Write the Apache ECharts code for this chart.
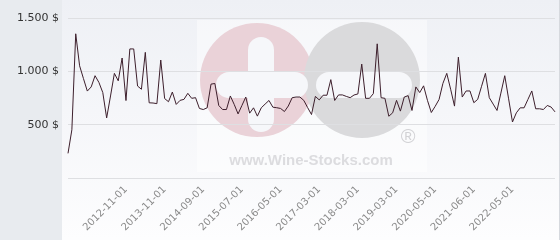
<!DOCTYPE html>
<html><head><meta charset="utf-8">
<script src="https://cdn.jsdelivr.net/npm/echarts@6/dist/echarts.min.js"></script>
<style>html,body{margin:0;padding:0;background:#fff;}#c{width:560px;height:240px;}</style>
</head><body><div id="c"></div>
<script>
const categories = [
'2011-08-01','2011-09-01','2011-10-01','2011-11-01','2011-12-01','2012-01-01','2012-02-01','2012-03-01','2012-04-01','2012-05-01',
'2012-06-01','2012-07-01','2012-08-01','2012-09-01','2012-10-01','2012-11-01','2012-12-01','2013-01-01','2013-02-01','2013-04-01',
'2013-05-01','2013-06-01','2013-08-01','2013-09-01','2013-10-01','2013-11-01','2013-12-01','2014-01-01','2014-02-01','2014-03-01',
'2014-04-01','2014-05-01','2014-06-01','2014-07-01','2014-08-01','2014-09-01','2014-10-01','2014-11-01','2014-12-01','2015-01-01',
'2015-02-01','2015-03-01','2015-04-01','2015-05-01','2015-06-01','2015-07-01','2015-08-01','2015-09-01','2015-10-01','2015-11-01',
'2015-12-01','2016-01-01','2016-02-01','2016-03-01','2016-04-01','2016-05-01','2016-06-01','2016-07-01','2016-08-01','2016-09-01',
'2016-10-01','2016-11-01','2016-12-01','2017-01-01','2017-02-01','2017-03-01','2017-04-01','2017-05-01','2017-07-01','2017-08-01',
'2017-09-01','2017-10-01','2017-12-01','2018-01-01','2018-02-01','2018-03-01','2018-04-01','2018-05-01','2018-06-01','2018-08-01',
'2018-09-01','2018-10-01','2018-11-01','2019-01-01','2019-02-01','2019-03-01','2019-04-01','2019-06-01','2019-07-01','2019-09-01',
'2019-10-01','2019-12-01','2020-01-01','2020-03-01','2020-04-01','2020-05-01','2020-06-01','2020-07-01','2020-09-01','2020-10-01',
'2020-11-01','2021-01-01','2021-02-01','2021-04-01','2021-05-01','2021-06-01','2021-07-01','2021-08-01','2021-09-01','2021-10-01',
'2021-11-01','2022-01-01','2022-02-01','2022-03-01','2022-04-01','2022-05-01','2022-06-01','2022-07-01','2022-08-01','2022-09-01',
'2022-10-01','2022-11-01','2022-12-01','2023-01-01','2023-02-01','2023-03-01','2023-04-01'
];
const prices = [
231,452,1352,1052,932,815,854,959,896,801,
563,769,981,911,1125,726,1210,1210,862,832,
1178,705,703,697,1106,745,715,806,690,728,
737,794,747,753,652,642,658,880,886,680,
642,642,769,690,601,680,759,608,658,580,
658,693,727,664,659,652,623,675,753,759,
759,728,660,595,765,732,776,776,922,727,
779,779,765,753,778,788,1068,747,747,791,
1258,753,747,579,611,728,627,759,772,633,
854,801,864,728,614,672,736,887,981,832,
674,1133,759,816,816,706,737,860,981,753,
693,633,796,959,742,525,611,658,658,737,
816,649,649,642,680,665,620
];
const xTickLabels = ['2012-11-01','2013-11-01','2014-09-01','2015-07-01','2016-05-01','2017-03-01','2018-03-01','2019-03-01','2020-05-01','2021-06-01','2022-05-01'];
const yMin = 0, yMax = 1500, yStep = 500;

function fmtMoney(v){
  if (v === 0) return '';
  const s = String(Math.round(v));
  return s.replace(/\B(?=(\d{3})+(?!\d))/g, '.') + ' $';
}

const chart = echarts.init(document.getElementById('c'), null, {renderer:'canvas'});
const white = '#f6f7fa';
chart.setOption({
  animation: false,
  graphic: [
    {type:'rect', z:-100, silent:true, shape:{x:0,y:0,width:62,height:240}, style:{fill:'#e8ebef'}},
    {type:'rect', z:-100, silent:true, shape:{x:62,y:0,width:498,height:240},
      style:{fill:{type:'linear',x:0,y:0,x2:0,y2:1,colorStops:[{offset:0,color:'#eef0f5'},{offset:1,color:'#fdfdfe'}]}}},
    {type:'line', z:-99, silent:true, shape:{x1:559.5,y1:0,x2:559.5,y2:240}, style:{stroke:'#d6d9de',lineWidth:1}},
    {type:'rect', z:-98, silent:true, shape:{x:197,y:20,width:230,height:152}, style:{fill:'#ffffff',opacity:0.45}},
    {type:'circle', z:-97, silent:true, shape:{cx:257,cy:80,r:57}, style:{fill:'#ead2d8'}},
    {type:'circle', z:-97, silent:true, shape:{cx:362,cy:80,r:58}, style:{fill:'#dadadc'}},
    {type:'rect', z:-96, silent:true, shape:{x:248,y:37,width:26,height:95,r:13}, style:{fill:white}},
    {type:'rect', z:-96, silent:true, shape:{x:216,y:72,width:92,height:26,r:13}, style:{fill:white}},
    {type:'rect', z:-96, silent:true, shape:{x:316,y:72,width:96,height:26,r:13}, style:{fill:white}},
    {type:'text', z:-96, silent:true, style:{x:311,y:161,text:'www.Wine-Stocks.com',fill:'#dcdcdf',
      font:'bold 15px "Liberation Sans", Arial, sans-serif',textAlign:'center',textVerticalAlign:'middle'}},
    {type:'text', z:-96, silent:true, style:{x:408,y:137,text:'®',fill:'#d2d2d5',
      font:'20px "Liberation Sans", Arial, sans-serif',textAlign:'center',textVerticalAlign:'middle'}}
  ],
  grid: {left:68, right:5, top:18, bottom:62},
  xAxis: {
    type:'category', boundaryGap:false, data:categories,
    axisLine:{show:false}, axisTick:{show:false}, splitLine:{show:false},
    axisLabel:{
      rotate:45, margin:10, color:'#8a8a8a', fontSize:10, fontFamily:'DejaVu Sans',
      interval:function(i, v){ return xTickLabels.indexOf(v) >= 0; }
    }
  },
  yAxis: {
    type:'value', min:yMin, max:yMax, interval:yStep,
    axisLine:{show:false}, axisTick:{show:false},
    splitLine:{lineStyle:{color:'#dedfe2', width:1}},
    axisLabel:{color:'#333', fontSize:11, fontFamily:'DejaVu Sans', margin:9, formatter:fmtMoney}
  },
  series: [{
    type:'line', data:prices, showSymbol:false, symbol:'none',
    lineStyle:{color:'#3d1f2c', width:1}, z:5
  }]
});
</script></body></html>
